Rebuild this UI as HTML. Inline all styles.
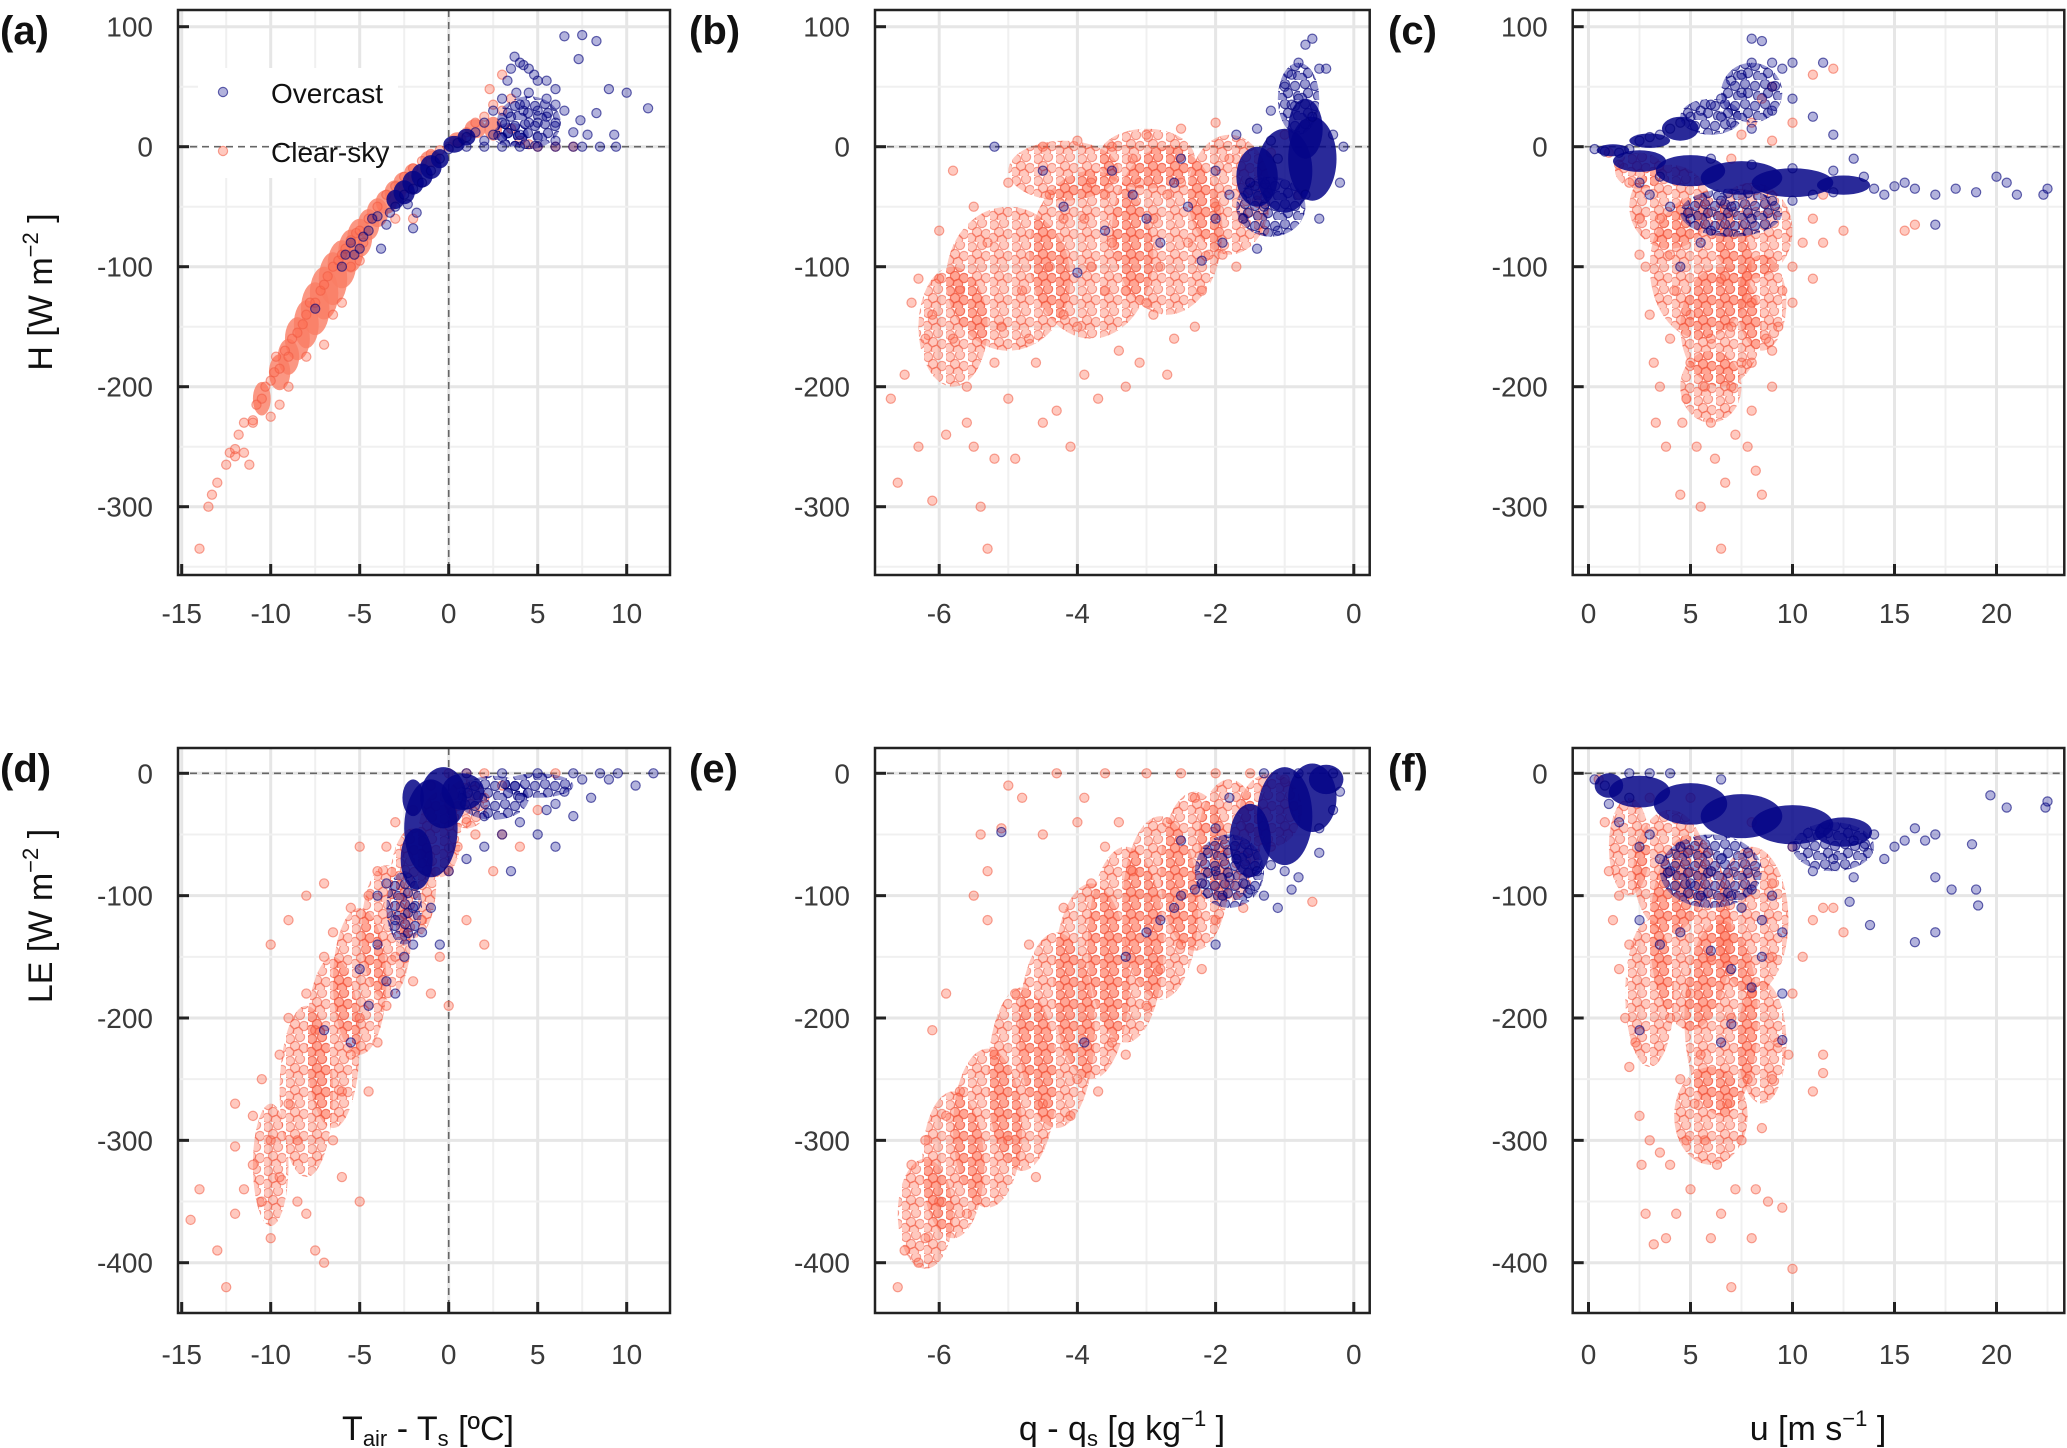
<!DOCTYPE html>
<html><head><meta charset="utf-8"><style>
html,body{margin:0;padding:0;background:#fff;}
svg{display:block;font-family:"Liberation Sans",Arial,sans-serif;}
</style></head><body>
<svg id="fig" width="2067" height="1448" viewBox="0 0 2067 1448" xmlns="http://www.w3.org/2000/svg">
<defs>
<pattern id="speckClear" patternUnits="userSpaceOnUse" width="22" height="22">
<g fill="rgba(255,99,71,0.35)" stroke="rgba(240,90,65,0.55)" stroke-width="1.2">
<circle cx="4" cy="5" r="4.6"/><circle cx="14" cy="3" r="4.6"/><circle cx="9" cy="12" r="4.6"/><circle cx="18" cy="14" r="4.6"/><circle cx="3" cy="18" r="4.6"/><circle cx="12" cy="20" r="4.6"/>
</g></pattern>
<pattern id="speckOver" patternUnits="userSpaceOnUse" width="20" height="20">
<g fill="rgba(0,0,139,0.4)" stroke="rgba(0,0,120,0.65)" stroke-width="1.2">
<circle cx="5" cy="4" r="4.6"/><circle cx="15" cy="6" r="4.6"/><circle cx="8" cy="13" r="4.6"/><circle cx="18" cy="16" r="4.6"/><circle cx="2" cy="18" r="4.6"/>
</g></pattern>
</defs>
</svg>
<script>
// ---------- data (data units) ----------
const xTicksT = [-15,-10,-5,0,5,10];
const xTicksQ = [-6,-4,-2,0];
const xTicksU = [0,5,10,15,20];
const yTicksH = [100,0,-100,-200,-300];
const yTicksLE = [0,-100,-200,-300,-400];
const seriesNames = ["Overcast","Clear-sky"];

const aClearPts = [-14,-335,-13.5,-300,-13.3,-290,-13,-280,-12.5,-265,-12.3,-255,-12,-252,-11.8,-240,-11.5,-230,-11.2,-265,-11,-228,-10.8,-215,-10.5,-210,-10.3,-200,-10,-195,-9.8,-188,-9.5,-185,-9.7,-175,-9.2,-170,-9,-175,-8.8,-160,-8.5,-155,-8.2,-148,-8,-140,-7.8,-130,-7.5,-130,-7.2,-120,-7,-115,-6.8,-108,-6.5,-100,-6.2,-95,-6,-90,-5.8,-85,-5.5,-78,-5.2,-72,-5,-70,-4.5,-60,-4,-50,-3.5,-40,-3,-33,-2.5,-25,-2,-18,-1.5,-12,-1,-6,-0.5,-3,0,0,0.5,5,1,12,1.5,20,2,25,2.3,48,2.5,35,3,30,3.5,15,4,5,4.5,2,5,0,6,0,7,0,3.5,40,3,60,-5.5,-100,-5,-95,-4.8,-80,-3,-60,-2,-60,-8,-175,-7,-165,-6.5,-140,-6,-130,-9,-200,-9.5,-215,-10,-225,-11,-230,-11.5,-255,-12,-258];
const aClearBlobs = [-10.5,-210,0.5,14,-9.5,-188,0.6,15,-9,-175,0.6,15,-8.5,-160,0.7,18,-8,-148,0.7,20,-7.5,-135,0.8,22,-7,-122,0.8,22,-6.5,-110,0.8,22,-6,-98,0.8,20,-5.5,-87,0.7,18,-5,-76,0.7,16,-4.5,-65,0.6,13,-4,-55,0.6,12,-3.5,-46,0.6,10,-3,-38,0.6,10,-2.5,-30,0.6,9,-2,-22,0.5,8,-1,-10,0.6,7,0.5,6,0.5,6,1.5,15,0.6,8,2.5,15,0.5,10];
const aClearCloud = [];
const aOverPts = [-7.5,-135,-6,-100,-5.8,-90,-5.5,-80,-5.3,-90,-5,-85,-4.8,-75,-4.5,-70,-4.3,-60,-4,-58,-3.8,-85,-3.5,-65,-2,-68,-3,-50,-2.5,-40,-2,-35,-1.5,-30,-1,-20,-0.5,-10,0,-2,0.5,3,1,8,1.5,12,2,20,2.5,30,3,40,3.3,55,3.5,65,3.7,75,4,70,4.2,68,4.5,65,4.8,60,5,55,5.5,55,6,48,6.5,92,7.5,93,8.3,88,7.3,73,9,48,10,45,11.2,32,8.3,28,7.4,22,9.3,10,7.8,10,7,12,6,20,5,30,4,35,3.5,25,3,20,2.5,10,4.5,20,5.5,25,6.5,30,1,0,2,0,3,0,4,0,5,0,6,0,7,0,7.5,0,8.5,0,9.4,0,2,5,3,8,4,10,5,8,6,5,3.8,45,4.5,45,5.5,40,6,35,5,20,4.2,30,-1.8,-55,-2.3,-48,-3.3,-55];
const aOverBlobs = [-2.5,-38,0.6,10,-2,-30,0.6,10,-1.5,-24,0.6,10,-1,-17,0.6,10,-0.5,-10,0.5,8,0.3,2,0.6,7,1,8,0.5,7,-3,-44,0.5,8];
const aOverCloud = [4.5,20,1.8,22,3.5,10,1,10];

const bClearPts = [-6.7,-210,-6.6,-280,-6.3,-250,-6.1,-295,-6.2,-160,-6.4,-130,-6.5,-190,-6,-110,-5.8,-160,-5.6,-200,-5.5,-250,-5.4,-300,-5.3,-335,-5.2,-260,-5,-210,-5.1,-150,-5.3,-80,-5,-30,-4.8,-120,-4.6,-180,-4.5,-230,-4.4,-100,-4.2,-60,-4,-150,-3.9,-190,-3.8,-30,-3.6,-120,-3.5,-80,-3.4,-170,-3.2,-10,-3,-130,-2.9,-60,-2.8,-100,-2.6,-160,-2.5,-30,-2.4,-80,-2.2,-120,-2,-50,-1.9,-90,-1.8,-10,-1.6,-60,-1.5,-30,-1.3,-70,-1.2,-5,-1,10,-0.8,-40,-4.5,0,-4,5,-3.5,0,-3,10,-2.5,15,-2,20,-5.5,-50,-6,-70,-5.8,-20,-4.9,-260,-4.3,-220,-4.1,-250,-3.7,-210,-3.3,-200,-3.1,-180,-2.7,-190,-5.7,-120,-6.3,-110,-5.2,-180,-4.7,-160,-4.2,-140,-3.8,-100,-3.3,-120,-2.9,-140,-2.3,-150,-2.1,-90,-1.7,-100,-1.4,-45,-5.9,-240,-5.6,-230,-6.1,-140,-4.4,-40,-3.9,-60,-3.6,-40,-3.1,-30,-2.7,-40];
const bClearBlobs = [];
const bClearCloud = [-5,-110,0.9,60,-3.8,-90,0.9,70,-2.7,-70,0.8,70,-1.8,-40,0.6,50,-5.8,-150,0.5,50,-4.2,-20,0.8,25,-3,-10,0.7,25];
const bOverPts = [-5.2,0,-4.5,-20,-4.2,-50,-4,-105,-3.6,-70,-3.5,-20,-3.2,-40,-3,-60,-2.8,-80,-2.6,-30,-2.5,-10,-2.4,-50,-2.2,-95,-2,-60,-2,-20,-1.9,-80,-1.8,-40,-1.7,10,-1.6,-60,-1.5,-30,-1.4,15,-1.3,-50,-1.2,30,-1.1,-70,-1,50,-0.9,60,-0.8,70,-0.7,85,-0.6,90,-0.8,40,-0.5,65,-0.4,65,-0.3,10,-0.2,-30,-0.15,0,-1.1,-10,-0.7,-40,-0.5,-60,-1.4,-85,-0.9,35,-0.6,25,-1.2,5];
const bOverBlobs = [-1,-20,0.4,35,-0.6,-10,0.35,35,-1.4,-25,0.3,25,-0.7,15,0.25,25];
const bOverCloud = [-1.2,-50,0.5,25,-0.8,40,0.3,30];

const cClearPts = [1,-5,1.5,-15,2,-30,2.5,-60,2.8,-100,3,-140,3.2,-180,3.3,-230,3.5,-200,3.8,-250,4,-160,4.2,-120,4.5,-290,4.8,-210,5,-180,5.3,-250,5.5,-300,5.7,-200,6,-230,6.2,-260,6.5,-335,6.7,-280,7,-200,7.2,-240,7.5,-180,7.8,-250,8,-220,8.2,-270,8.5,-290,8.7,-160,9,-200,9.3,-150,9.5,-120,10,-100,10.5,-80,11,-60,11.5,-40,11,-110,12.5,-70,11.5,-80,10,-130,9,-170,8,-180,7,-150,6,-160,4,-90,3.5,-60,2.5,-90,5,-140,6.5,-110,8,-130,7,-10,8,20,8.5,40,9,50,10,20,11,60,12,65,7.5,10,9,5,16,-65,15.5,-70,4.6,-230];
const cClearBlobs = [];
const cClearCloud = [5.5,-100,2.5,60,6.5,-150,2,50,4,-50,2,35,8,-70,2,40,2.5,-20,1.2,15,8.5,-130,1.2,40,6,-200,1.5,30];
const cOverPts = [0.3,-2,0.8,-4,1.5,-5,2,-2,2.5,5,3,8,3.5,10,4,15,4.5,20,5,25,5.5,30,6,35,6.5,40,7,55,7.5,60,8,90,8.5,88,8,70,9,70,9.5,65,10,70,11.5,70,9,50,7.5,45,6.5,25,7,20,8,15,9,30,10,40,11,25,12,10,13,-10,14,-35,15,-33,16,-35,17,-40,17,-65,18,-35,19,-38,20,-25,20.5,-30,21,-40,22.5,-35,22.3,-40,14.5,-40,13.5,-25,15.5,-30,3,-40,4,-50,5,-60,6,-70,4.5,-100,5.5,-80,7,-50,8,-60,6.5,-45,2.5,-30,3.5,-25,9,-45,10,-45,11,-40,12,-38,12,-20,6,-10,8,-15,10,-18];
const cOverBlobs = [2.5,-12,1.3,9,5,-20,1.7,13,7.5,-26,2,14,10,-30,2,12,12.5,-32,1.3,8,1.2,-3,0.8,5,3,5,1,6,4.5,15,0.9,10];
const cOverCloud = [6,25,1.5,15,8,45,1.5,25,7,-55,2.5,20];

const dClearPts = [-14.5,-365,-14,-340,-13,-390,-12.5,-420,-12,-360,-12,-305,-11.5,-340,-11,-320,-11,-280,-10.5,-350,-10.5,-250,-10,-300,-10,-380,-9.5,-330,-9.5,-230,-9,-270,-9,-200,-8.5,-350,-8.5,-300,-8,-360,-8,-180,-7.5,-390,-7.5,-210,-7,-400,-7,-150,-6.5,-300,-6.5,-130,-6,-330,-6,-260,-5.5,-110,-5.5,-230,-5,-350,-5,-200,-4.5,-260,-4.5,-100,-4,-220,-4,-80,-3.5,-190,-3.5,-60,-3,-150,-3,-40,-2.5,-130,-2,-170,-2,-30,-1.5,-120,-1,-180,-1,-10,-0.5,-150,0,-190,0,-80,0.5,-60,1,-40,1,-120,1.5,-50,2,-140,2,-20,2.5,-80,3,-10,3,-50,4,-60,5,-30,6,0,0,0,1,0,2,0,-10,-140,-9,-120,-8,-100,-7,-90,-5,-60,-12,-270];
const dClearBlobs = [];
const dClearCloud = [-8,-260,1.5,70,-6.5,-220,1.5,70,-5,-170,1.5,60,-3.5,-130,1.4,55,-2,-90,1.3,45,-0.5,-50,1.2,35,1,-25,1.2,20,-10,-320,1,50];
const dOverPts = [-7,-210,-5.5,-220,-5,-160,-4.5,-190,-4,-140,-3.5,-170,-3,-180,-3,-120,-2.5,-150,-2,-110,-2,-140,-1.5,-130,-1,-110,-0.5,-140,-4,-100,-3.5,-90,0,-80,1,-70,2,-60,3,-50,4,-40,5,-50,6,-60,7,-35,8,-20,3.5,-80,5.5,-30,6.5,-15,7.5,-5,8.5,0,9.5,0,10.5,-10,11.5,0,9,-5,7,0,5,0,3,0,1,0,4,-20,6,-25,2,-35];
const dOverBlobs = [-1,-45,1.5,40,-0.3,-20,1.3,25,-1.8,-70,0.9,25,0.8,-15,1.2,15,-2,-20,0.6,15];
const dOverCloud = [2.5,-20,2,18,5,-10,2,10,-2.5,-110,1,30];

const eClearPts = [-6.6,-420,-6.5,-390,-6.3,-400,-6.2,-380,-6.4,-320,-6,-350,-5.9,-280,-5.7,-260,-5.6,-360,-5.5,-100,-5.4,-50,-5.3,-80,-5.2,-230,-5,-300,-5,-10,-4.9,-180,-4.7,-140,-4.5,-270,-4.5,-50,-4.3,0,-4.2,-110,-4,-250,-3.9,-20,-3.8,-90,-3.6,0,-3.5,-220,-3.4,-40,-3.2,-80,-3,-190,-3,0,-2.8,-160,-2.7,-40,-2.5,-140,-2.5,0,-2.3,-20,-2,-120,-2,0,-1.8,-90,-1.5,-70,-1.5,0,-1.2,-60,-1,-5,-6.1,-210,-5.9,-180,-4.6,-330,-4.1,-280,-3.7,-260,-3.3,-230,-2.2,-160,-1.6,-110,-0.6,-105,-4.8,-20,-4,-40,-3.6,-60,-5.3,-120,-5.1,-45,-6.2,-300];
const eClearBlobs = [];
const eClearCloud = [-6.2,-360,0.4,45,-5.8,-320,0.45,60,-5.3,-290,0.5,65,-4.8,-250,0.5,75,-4.3,-210,0.55,80,-3.8,-170,0.55,80,-3.3,-140,0.55,80,-2.8,-110,0.55,75,-2.3,-80,0.5,65,-1.8,-55,0.45,50,-1.2,-30,0.45,30];
const eOverPts = [-5.1,-48,-3.3,-150,-3,-130,-2.8,-120,-2.6,-110,-2.5,-100,-2.3,-95,-2.2,-90,-2,-80,-1.9,-100,-1.8,-85,-1.7,-70,-1.6,-90,-1.5,-95,-1.4,-80,-1.3,-100,-1.2,-75,-1.1,-110,-1,-80,-0.9,-95,-0.8,-85,-0.5,-65,-0.3,-30,-0.2,-15,-0.3,0,-0.8,0,-1.3,0,-1.8,-20,-2.5,-55,-2,-45,-0.5,-45,-3.9,-220,-2,-140];
const eOverBlobs = [-1,-35,0.4,40,-0.6,-20,0.35,28,-1.5,-55,0.3,30,-0.4,-5,0.25,12];
const eOverCloud = [-1.8,-80,0.5,30];

const fClearPts = [0.5,-5,0.8,-40,1,-80,1.2,-120,1.5,-160,1.8,-200,2,-240,2.3,-220,2.5,-280,2.6,-320,2.8,-360,3,-300,3.2,-385,3.5,-310,3.8,-380,4,-320,4.3,-360,4.5,-250,4.8,-300,5,-340,5.2,-270,5.5,-230,5.7,-300,6,-380,6.3,-320,6.5,-360,6.8,-270,7,-420,7.2,-340,7.5,-300,7.8,-250,8,-380,8.2,-340,8.5,-290,8.8,-350,9,-250,9.3,-220,9.5,-355,9.8,-230,10,-405,10,-180,10.5,-150,11,-120,11.5,-110,12,-110,11.5,-230,11.5,-245,11,-260,12.5,-130,10,-60,9,-90,8,-40,3,-20,5,-20,1.5,-100,2,-140,4,-200,5,-180,6,-150,7,-200,8,-180,9,-150];
const fClearBlobs = [];
const fClearCloud = [5,-130,2,80,6.5,-200,1.8,80,4,-80,1.8,50,8,-120,1.8,60,2,-60,1,40,3,-180,1.2,60,6,-280,1.8,40,8.5,-220,1.2,50];
const fOverPts = [0.3,-5,0.8,-10,1,-25,1.5,-40,2,-20,2.5,-60,3,-50,3.5,-70,4,-80,4.5,-60,5,-90,5.5,-100,6,-80,6.5,-70,7,-100,7.5,-110,8,-95,8.5,-120,9,-100,9.5,-130,2.5,-120,3.5,-140,4.5,-130,6,-145,7,-160,8,-175,8.5,-150,9.5,-180,2.5,-210,7,-205,6.5,-220,9.5,-218,13,-55,13.5,-60,14,-50,14.5,-70,15,-60,15.5,-55,16,-45,16.5,-55,17,-50,12,-70,13,-85,17,-85,17.8,-95,19,-95,19.1,-108,18.8,-58,19.7,-18,20.5,-28,22.4,-28,22.5,-23,13.8,-124,16,-138,17,-130,12.8,-105,11,-80,10,-60,6.5,-5,4,0,3,0,2,0];
const fOverBlobs = [2.5,-15,1.5,13,5,-25,1.8,17,7.5,-35,2,18,10,-42,2,16,12.5,-48,1.4,12,1,-10,0.7,10];
const fOverCloud = [6,-80,2.5,30,12,-60,2,20];

// ---------- layout ----------
const NS = "http://www.w3.org/2000/svg";
const svg = document.getElementById("fig");
const defs = svg.querySelector("defs");
function mk(tag, attrs, parent){const e=document.createElementNS(NS,tag);for(const k in attrs)e.setAttribute(k,attrs[k]);(parent||svg).appendChild(e);return e;}

const cols = [
 {l:178,r:670,x0:448.7,k:17.8,ticks:xTicksT,major:5},
 {l:875,r:1369.7,x0:1353.8,k:69.1,ticks:xTicksQ,major:2},
 {l:1572.7,r:2064.3,x0:1588.5,k:20.4,ticks:xTicksU,major:5}
];
const rows = [
 {t:10,b:575,y0:146.7,k:1.2,ticks:yTicksH,labY:613},
 {t:748,b:1313,y0:773.3,k:1.2235,ticks:yTicksLE,labY:1354}
];
const panels = [
 {id:"a",c:0,r:0,clear:aClearPts,cb:aClearBlobs,cc:aClearCloud,over:aOverPts,ob:aOverBlobs,oc:aOverCloud,vline:true},
 {id:"b",c:1,r:0,clear:bClearPts,cb:bClearBlobs,cc:bClearCloud,over:bOverPts,ob:bOverBlobs,oc:bOverCloud,vline:false},
 {id:"c",c:2,r:0,clear:cClearPts,cb:cClearBlobs,cc:cClearCloud,over:cOverPts,ob:cOverBlobs,oc:cOverCloud,vline:false},
 {id:"d",c:0,r:1,clear:dClearPts,cb:dClearBlobs,cc:dClearCloud,over:dOverPts,ob:dOverBlobs,oc:dOverCloud,vline:true},
 {id:"e",c:1,r:1,clear:eClearPts,cb:eClearBlobs,cc:eClearCloud,over:eOverPts,ob:eOverBlobs,oc:eOverCloud,vline:false},
 {id:"f",c:2,r:1,clear:fClearPts,cb:fClearBlobs,cc:fClearCloud,over:fOverPts,ob:fOverBlobs,oc:fOverCloud,vline:false}
];
const labelX = {a:0,b:689,c:1388,d:0,e:689,f:1388};

panels.forEach(p=>{
  const C=cols[p.c], R=rows[p.r];
  const sx=v=>C.x0+C.k*v, sy=v=>R.y0-R.k*v;
  const g=mk("g",{});
  
  
  const cp=mk("clipPath",{id:"clip"+p.id},defs);
  mk("rect",{x:C.l,y:R.t,width:C.r-C.l,height:R.b-R.t},cp);
  const grid=mk("g",{},g);
  
  
  const xmin=(C.l-C.x0)/C.k, xmax=(C.r-C.x0)/C.k;
  const hm=C.major/2;
  for(let v=Math.ceil(xmin/hm)*hm; v<=xmax; v+=hm){
    const major=Math.abs(v/C.major-Math.round(v/C.major))<1e-6;
    mk("line",{x1:sx(v),x2:sx(v),y1:R.t,y2:R.b,stroke:major?"#e6e6e6":"#f0f0f0","stroke-width":major?3:2},grid);
  }
  const ymax=(R.y0-R.t)/R.k, ymin=(R.y0-R.b)/R.k;
  for(let v=Math.ceil(ymin/50)*50; v<=ymax; v+=50){
    const major=v%100===0;
    mk("line",{x1:C.l,x2:C.r,y1:sy(v),y2:sy(v),stroke:major?"#e6e6e6":"#f0f0f0","stroke-width":major?3:2},grid);
  }
  if(p.id==="a"){ mk("rect",{x:198,y:68,width:200,height:110,fill:"#fff"},g); }
  mk("line",{x1:C.l,x2:C.r,y1:sy(0),y2:sy(0),stroke:"#666","stroke-width":1.6,"stroke-dasharray":"7,5"},g);
  if(p.vline) mk("line",{x1:sx(0),x2:sx(0),y1:R.t,y2:R.b,stroke:"#666","stroke-width":1.6,"stroke-dasharray":"7,5"},g);
  const dg=mk("g",{"clip-path":"url(#clip"+p.id+")"},g);
  function blobs(arr,fill,name){
    const bg=mk("g",{},dg);
    
    
    for(let i=0;i<arr.length;i+=4){
      mk("ellipse",{cx:sx(arr[i]),cy:sy(arr[i+1]),rx:arr[i+2]*C.k,ry:arr[i+3]*R.k,fill:fill},bg);
    }
  }
  function pts(arr,fill,stroke,name){
    const pg=mk("g",{},dg);
    
    
    for(let i=0;i<arr.length;i+=2){
      mk("circle",{cx:sx(arr[i]),cy:sy(arr[i+1]),r:4.6,fill:fill,stroke:stroke,"stroke-width":1.2},pg);
    }
  }
  blobs(p.cc,"url(#speckClear)","clear-sky-cloud-"+p.id);
  blobs(p.cb,"rgba(250,125,100,0.8)","clear-sky-dense-"+p.id);
  pts(p.clear,"rgba(255,99,71,0.35)","rgba(240,90,65,0.55)","clear-sky-points-"+p.id);
  blobs(p.oc,"url(#speckOver)","overcast-cloud-"+p.id);
  blobs(p.ob,"rgba(5,5,135,0.85)","overcast-dense-"+p.id);
  pts(p.over,"rgba(0,0,139,0.3)","rgba(0,0,120,0.6)","overcast-points-"+p.id);
  mk("rect",{x:C.l,y:R.t,width:C.r-C.l,height:R.b-R.t,fill:"none",stroke:"#222","stroke-width":2.5},g);
  R.ticks.forEach(v=>{
    mk("line",{x1:C.l,x2:C.l+11,y1:sy(v),y2:sy(v),stroke:"#222","stroke-width":3},g);
    const t=mk("text",{x:C.l-25,y:sy(v)+10,"text-anchor":"end","font-size":28,fill:"#3a3a3a"},g);
    t.textContent=v;
    
    
  });
  C.ticks.forEach(v=>{
    mk("line",{x1:sx(v),x2:sx(v),y1:R.b,y2:R.b-11,stroke:"#222","stroke-width":3},g);
    const t=mk("text",{x:sx(v),y:R.labY+10,"text-anchor":"middle","font-size":28,fill:"#3a3a3a"},g);
    t.textContent=v;
    
    
  });
  const pl=mk("text",{x:labelX[p.id],y:R.t+34,"font-size":40,"font-weight":"bold",fill:"#111"},g);
  pl.textContent="("+p.id+")";
  
  
});

const lg=mk("g",{});


mk("circle",{cx:223,cy:92,r:4.6,fill:"rgba(0,0,139,0.3)",stroke:"rgba(0,0,120,0.6)","stroke-width":1.2},lg);
mk("circle",{cx:223,cy:151,r:4.6,fill:"rgba(255,99,71,0.35)",stroke:"rgba(240,90,65,0.55)","stroke-width":1.2},lg);
const l1=mk("text",{x:271,y:103,"font-size":28,fill:"#111"},lg); l1.textContent=seriesNames[0];


const l2=mk("text",{x:271,y:162,"font-size":28,fill:"#111"},lg); l2.textContent=seriesNames[1];



svg.insertAdjacentHTML("beforeend",
 '<text transform="translate(52,292) rotate(-90)" text-anchor="middle" font-size="34" fill="#111">H [W m<tspan font-size="22" dy="-14">−2</tspan><tspan dy="14"> ]</tspan></text>'+
 '<text transform="translate(52,916) rotate(-90)" text-anchor="middle" font-size="34" fill="#111">LE [W m<tspan font-size="22" dy="-14">−2</tspan><tspan dy="14"> ]</tspan></text>'+
 '<text x="428" y="1440" text-anchor="middle" font-size="34" fill="#111">T<tspan font-size="22" dy="6">air</tspan><tspan dy="-6"> - T</tspan><tspan font-size="22" dy="6">s</tspan><tspan dy="-6"> [ºC]</tspan></text>'+
 '<text x="1122" y="1440" text-anchor="middle" font-size="34" fill="#111">q - q<tspan font-size="22" dy="6">s</tspan><tspan dy="-6"> [g kg</tspan><tspan font-size="22" dy="-14">−1</tspan><tspan dy="14"> ]</tspan></text>'+
 '<text x="1818" y="1440" text-anchor="middle" font-size="34" fill="#111">u [m s<tspan font-size="22" dy="-14">−1</tspan><tspan dy="14"> ]</tspan></text>');
</script>
</body></html>
